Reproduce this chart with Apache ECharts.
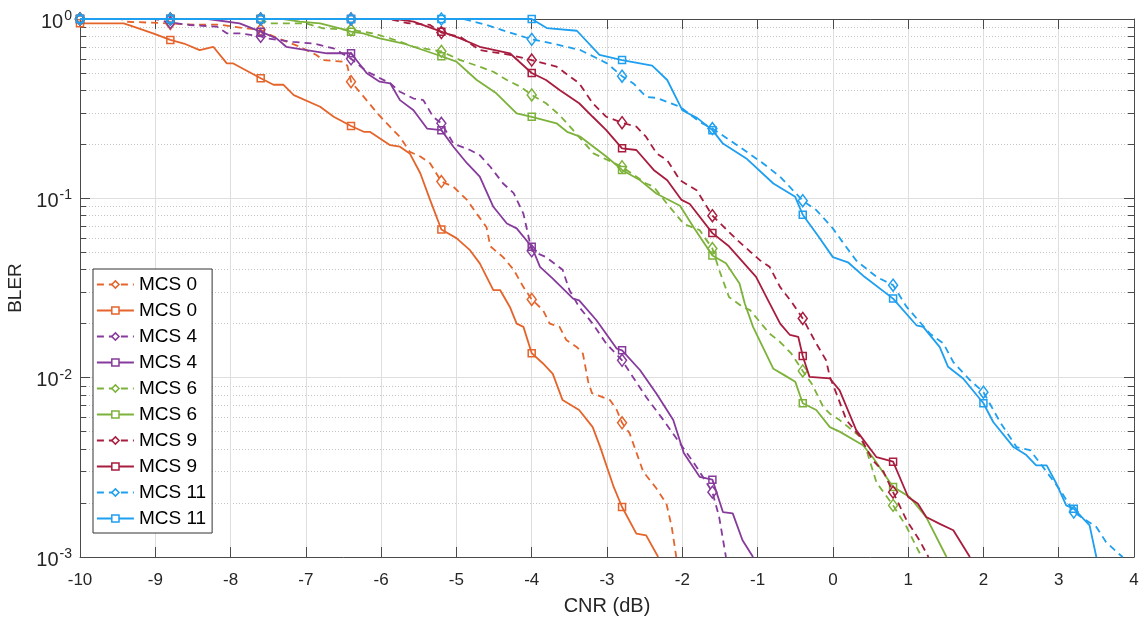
<!DOCTYPE html>
<html><head><meta charset="utf-8">
<script src="https://cdn.jsdelivr.net/npm/echarts/dist/echarts.min.js"></script>
<style>html,body{margin:0;padding:0;background:#fff}#c{width:1147px;height:621px}</style>
</head><body><div id="c"></div>
<script>
// ---- data (CNR dB, BLER) ----
const legendLabels = ['MCS 0','MCS 0','MCS 4','MCS 4','MCS 6','MCS 6','MCS 9','MCS 9','MCS 11','MCS 11'];
const xTickValues = [-10,-9,-8,-7,-6,-5,-4,-3,-2,-1,0,1,2,3,4];
const yMajorTicks = [0.001,0.01,0.1,1];
const yMinorTicks = [0.002,0.003,0.004,0.005,0.006,0.007,0.008,0.009,0.02,0.03,0.04,0.05,0.06,0.07,0.08,0.09,0.2,0.3,0.4,0.5,0.6,0.7,0.8,0.9];
const markerCNR = [-10,-8.8,-7.6,-6.4,-5.2,-4,-2.8,-1.6,-0.4,0.8,2,3.2];

const mcs0Dashed = [[-10,1],[-9.45,1],[-9.4,0.966],[-8.8,0.945],[-8.5,0.93],[-8.14,0.93],[-7.83,0.89],[-7.6,0.87],[-7.52,0.83],[-7.3,0.76],[-7.08,0.70],[-6.86,0.63],[-6.77,0.59],[-6.5,0.578],[-6.45,0.55],[-6.4,0.447],[-6.23,0.368],[-6.05,0.298],[-5.88,0.25],[-5.75,0.22],[-5.62,0.182],[-5.48,0.171],[-5.35,0.157],[-5.2,0.124],[-5.04,0.116],[-4.86,0.098],[-4.73,0.082],[-4.6,0.069],[-4.55,0.054],[-4.38,0.047],[-4.24,0.040],[-4.11,0.032],[-4.0,0.0273],[-3.85,0.0238],[-3.76,0.020],[-3.63,0.0192],[-3.54,0.0162],[-3.4,0.0148],[-3.32,0.0136],[-3.25,0.0095],[-3.2,0.0082],[-2.96,0.0075],[-2.87,0.0066],[-2.8,0.0056],[-2.7,0.0049],[-2.52,0.0030],[-2.34,0.0024],[-2.21,0.00198],[-2.14,0.00147],[-2.08,0.001]];
const mcs0Solid = [[-10,0.946],[-9.42,0.946],[-9.29,0.906],[-9.03,0.832],[-8.8,0.764],[-8.62,0.73],[-8.41,0.67],[-8.23,0.70],[-8.05,0.566],[-7.97,0.566],[-7.6,0.467],[-7.43,0.43],[-7.3,0.43],[-7.16,0.376],[-6.81,0.324],[-6.63,0.285],[-6.4,0.253],[-6.23,0.235],[-6.15,0.235],[-5.88,0.198],[-5.75,0.194],[-5.62,0.178],[-5.48,0.138],[-5.35,0.098],[-5.2,0.067],[-5.0,0.06],[-4.82,0.0514],[-4.69,0.0434],[-4.51,0.0308],[-4.42,0.0308],[-4.29,0.0248],[-4.2,0.020],[-4.11,0.0192],[-4.0,0.0137],[-3.85,0.012],[-3.72,0.0105],[-3.59,0.0075],[-3.37,0.0066],[-3.19,0.0053],[-3.09,0.0041],[-2.91,0.00245],[-2.8,0.0019],[-2.61,0.00135],[-2.48,0.00132],[-2.32,0.001]];
const mcs4Dashed = [[-10,1],[-9.0,1],[-8.8,0.955],[-8.54,0.926],[-8.18,0.906],[-8.05,0.832],[-7.87,0.832],[-7.6,0.80],[-7.52,0.78],[-7.17,0.746],[-6.9,0.73],[-6.63,0.685],[-6.4,0.60],[-6.19,0.51],[-5.88,0.438],[-5.75,0.393],[-5.57,0.36],[-5.44,0.353],[-5.31,0.285],[-5.2,0.262],[-5.04,0.202],[-4.82,0.186],[-4.69,0.174],[-4.55,0.15],[-4.38,0.121],[-4.24,0.107],[-4.11,0.082],[-4.0,0.051],[-3.81,0.047],[-3.59,0.040],[-3.5,0.0308],[-3.37,0.0248],[-3.19,0.020],[-3.01,0.0155],[-2.8,0.0125],[-2.65,0.0100],[-2.48,0.0078],[-2.25,0.0058],[-2.03,0.0043],[-1.81,0.00318],[-1.6,0.0023],[-1.51,0.00167],[-1.42,0.001]];
const mcs4Solid = [[-10,1],[-8.8,1],[-8.3,1],[-7.88,0.946],[-7.6,0.85],[-7.39,0.78],[-7.26,0.70],[-6.99,0.671],[-6.72,0.644],[-6.4,0.644],[-6.19,0.498],[-6.02,0.447],[-5.88,0.438],[-5.75,0.353],[-5.57,0.31],[-5.39,0.245],[-5.2,0.24],[-5.04,0.194],[-4.86,0.157],[-4.69,0.132],[-4.51,0.0897],[-4.33,0.0724],[-4.2,0.068],[-4.0,0.0537],[-3.89,0.0415],[-3.72,0.0357],[-3.45,0.0276],[-3.37,0.027],[-3.14,0.0209],[-2.87,0.0145],[-2.8,0.0142],[-2.56,0.011],[-2.34,0.0081],[-2.12,0.0058],[-1.98,0.0038],[-1.77,0.0028],[-1.6,0.0027],[-1.46,0.00178],[-1.33,0.00175],[-1.2,0.00124],[-1.06,0.001]];
const mcs6Dashed = [[-10,1],[-8.8,1],[-7.6,1],[-7.5,0.946],[-7.0,0.946],[-6.77,0.887],[-6.4,0.87],[-6.1,0.83],[-5.8,0.76],[-5.57,0.70],[-5.2,0.66],[-4.95,0.59],[-4.69,0.542],[-4.51,0.508],[-4.33,0.457],[-4.15,0.419],[-4.0,0.377],[-3.81,0.339],[-3.63,0.291],[-3.45,0.24],[-3.18,0.178],[-2.8,0.15],[-2.48,0.121],[-2.38,0.116],[-2.2,0.093],[-1.98,0.072],[-1.77,0.0665],[-1.6,0.0525],[-1.51,0.0398],[-1.38,0.0282],[-1.2,0.0248],[-1.1,0.0238],[-0.84,0.0176],[-0.7,0.0158],[-0.55,0.0136],[-0.4,0.0109],[-0.27,0.0091],[-0.13,0.0069],[-0.04,0.0063],[0.09,0.0058],[0.36,0.0047],[0.45,0.0039],[0.58,0.0026],[0.8,0.00194],[0.98,0.00147],[1.11,0.00114],[1.18,0.001]];
const mcs6Solid = [[-10,1],[-8.8,1],[-7.6,1],[-7.3,1],[-7.08,0.966],[-6.81,0.946],[-6.55,0.887],[-6.4,0.85],[-6.24,0.832],[-6.02,0.78],[-5.7,0.73],[-5.2,0.62],[-5.0,0.578],[-4.73,0.457],[-4.47,0.385],[-4.2,0.298],[-4.0,0.285],[-3.67,0.262],[-3.53,0.235],[-3.35,0.22],[-3.18,0.194],[-3.01,0.171],[-2.8,0.144],[-2.56,0.126],[-2.34,0.106],[-2.03,0.091],[-1.85,0.069],[-1.6,0.048],[-1.42,0.0434],[-1.24,0.0335],[-1.17,0.0259],[-1.06,0.0192],[-0.93,0.0148],[-0.79,0.0112],[-0.64,0.0103],[-0.5,0.0095],[-0.4,0.0072],[-0.22,0.0066],[-0.04,0.0053],[0.09,0.005],[0.4,0.0042],[0.53,0.0036],[0.8,0.00246],[1.02,0.00216],[1.24,0.00167],[1.51,0.001]];
const mcs9Dashed = [[-10,1],[-8.8,1],[-7.6,1],[-6.4,1],[-5.9,1],[-5.66,0.95],[-5.35,0.927],[-5.2,0.84],[-4.95,0.796],[-4.69,0.671],[-4.29,0.631],[-4.0,0.59],[-3.67,0.542],[-3.37,0.438],[-3.19,0.339],[-3.01,0.285],[-2.8,0.264],[-2.61,0.251],[-2.48,0.22],[-2.34,0.178],[-2.2,0.163],[-2.03,0.126],[-1.81,0.111],[-1.6,0.08],[-1.27,0.0585],[-0.97,0.0452],[-0.84,0.0415],[-0.7,0.032],[-0.55,0.0265],[-0.4,0.0214],[-0.22,0.0155],[-0.09,0.0125],[-0.04,0.0101],[0.05,0.0081],[0.18,0.0058],[0.36,0.0047],[0.53,0.00346],[0.67,0.003],[0.8,0.0023],[0.98,0.0016],[1.15,0.00124],[1.27,0.001]];
const mcs9Solid = [[-10,1],[-8.8,1],[-7.6,1],[-6.4,1],[-5.8,1],[-5.57,0.966],[-5.2,0.85],[-4.95,0.78],[-4.69,0.70],[-4.29,0.644],[-4.0,0.50],[-3.81,0.457],[-3.63,0.402],[-3.37,0.339],[-3.19,0.285],[-3.01,0.24],[-2.8,0.19],[-2.61,0.186],[-2.38,0.144],[-2.2,0.126],[-2.01,0.098],[-1.9,0.093],[-1.6,0.064],[-1.38,0.054],[-1.02,0.0365],[-0.86,0.027],[-0.7,0.020],[-0.57,0.0173],[-0.46,0.0169],[-0.4,0.0132],[-0.31,0.0101],[-0.04,0.0099],[0.09,0.0085],[0.31,0.0051],[0.58,0.0036],[0.8,0.0034],[1.0,0.00216],[1.13,0.00198],[1.24,0.00167],[1.42,0.00153],[1.6,0.00141],[1.82,0.001]];
const mcs11Dashed = [[-10,1],[-8.8,1],[-7.6,1],[-6.4,1],[-5.2,1],[-4.9,1],[-4.6,0.926],[-4.33,0.85],[-4.0,0.77],[-3.72,0.73],[-3.35,0.67],[-3.0,0.566],[-2.8,0.48],[-2.65,0.437],[-2.48,0.368],[-2.34,0.363],[-2.03,0.324],[-1.77,0.267],[-1.6,0.245],[-1.24,0.194],[-0.93,0.157],[-0.7,0.132],[-0.4,0.097],[-0.22,0.086],[0,0.068],[0.13,0.057],[0.31,0.045],[0.58,0.0365],[0.8,0.0328],[0.98,0.0248],[1.29,0.0176],[1.47,0.0155],[1.6,0.0122],[1.82,0.0097],[2.0,0.0083],[2.22,0.00566],[2.44,0.0041],[2.62,0.00394],[2.79,0.00318],[3.02,0.00236],[3.2,0.00178],[3.5,0.00147],[3.63,0.00121],[3.79,0.00105],[3.85,0.001]];
const mcs11Solid = [[-10,1],[-8.8,1],[-7.6,1],[-6.4,1],[-5.2,1],[-4,1],[-3.8,0.89],[-3.4,0.86],[-3.1,0.63],[-2.8,0.59],[-2.4,0.55],[-2.2,0.457],[-2.0,0.31],[-1.8,0.28],[-1.6,0.24],[-1.46,0.202],[-1.15,0.167],[-0.79,0.121],[-0.5,0.102],[-0.4,0.081],[-0.2,0.062],[0,0.047],[0.2,0.044],[0.42,0.0365],[0.8,0.0276],[1.11,0.0196],[1.2,0.0192],[1.42,0.0148],[1.53,0.0115],[1.73,0.0099],[2.0,0.0072],[2.13,0.00566],[2.4,0.0041],[2.57,0.0037],[2.7,0.00324],[2.84,0.00324],[2.97,0.00256],[3.1,0.00194],[3.2,0.00186],[3.41,0.0015],[3.5,0.001]];

// ---- styling ----
const FONT = '"Liberation Sans", Arial, sans-serif';
const TXT = '#262626';
const AX = '#4a4a4a';
const COLORS = ['#E5642B','#E5642B','#863B9C','#863B9C','#7DB23A','#7DB23A','#A81C3E','#A81C3E','#1E9FEF','#1E9FEF'];
const allData = [mcs0Dashed,mcs0Solid,mcs4Dashed,mcs4Solid,mcs6Dashed,mcs6Solid,mcs9Dashed,mcs9Solid,mcs11Dashed,mcs11Solid];
const DASH = [7,5];

function isMarker(x){ return markerCNR.some(m => Math.abs(m - x) < 1e-6); }

const series = allData.map((d, i) => {
  const dashed = i % 2 === 0;
  return {
    name: legendLabels[i] + '#' + i,
    type: 'line',
    data: d,
    xAxisIndex: 0, yAxisIndex: 0,
    clip: false,
    symbol: dashed ? 'diamond' : 'rect',
    symbolSize: (v) => isMarker(v[0]) ? (dashed ? [9, 12] : 7) : 0,
    itemStyle: { color: 'rgba(255,255,255,0)', borderColor: COLORS[i], borderWidth: 1.5 },
    lineStyle: { color: COLORS[i], width: 1.8, type: dashed ? DASH : 'solid' },
    emphasis: { disabled: true },
    silent: true,
    z: 3 + i
  };
});

const yBase = { type: 'log', logBase: 10, min: 0.001, max: 1, gridIndex: 0 };
const chart = echarts.init(document.getElementById('c'), null, { renderer: 'canvas' });
chart.setOption({
  animation: false,
  backgroundColor: '#fff',
  grid: { left: 80, right: 13, top: 19, bottom: 64, containLabel: false, outerBoundsMode: 'none' },
  xAxis: [
    { type: 'value', min: -10, max: 4, interval: 1, position: 'bottom',
      axisLine: { show: true, onZero: false, lineStyle: { color: AX, width: 1 } },
      axisTick: { show: true, inside: true, length: 10, lineStyle: { color: AX } },
      axisLabel: { margin: 15, fontSize: 17, color: TXT, fontFamily: FONT },
      splitLine: { show: true, lineStyle: { color: '#dedede', width: 1 } },
      name: 'CNR (dB)', nameLocation: 'middle', nameGap: 39,
      nameTextStyle: { fontSize: 20, color: TXT, fontFamily: FONT } },
    { type: 'value', min: -10, max: 4, interval: 1, position: 'top',
      axisLine: { show: true, onZero: false, lineStyle: { color: AX, width: 1 } },
      axisTick: { show: true, inside: true, length: 10, lineStyle: { color: AX } },
      axisLabel: { show: false }, splitLine: { show: false } }
  ],
  yAxis: [
    Object.assign({}, yBase, { position: 'left',
      axisLine: { show: true, onZero: false, lineStyle: { color: AX, width: 1 } },
      axisTick: { show: true, inside: true, length: 10, lineStyle: { color: AX }, customValues: yMajorTicks },
      axisLabel: { show: true, margin: 8, color: TXT, fontFamily: FONT, customValues: yMajorTicks,
        formatter: (v) => '{b|10}{s|' + Math.round(Math.log10(v)) + '}',
        rich: { b: { fontSize: 20, lineHeight: 26, verticalAlign: 'bottom', color: TXT, fontFamily: FONT },
                s: { fontSize: 14, lineHeight: 14, padding: [3, 0, 0, 1], verticalAlign: 'top', color: TXT, fontFamily: FONT } } },
      splitLine: { show: true, lineStyle: { color: '#dedede', width: 1 } },
      name: 'BLER', nameLocation: 'middle', nameGap: 49,
      nameTextStyle: { fontSize: 19, color: TXT, fontFamily: FONT } }),
    Object.assign({}, yBase, { position: 'left',
      axisLine: { show: false, onZero: false },
      axisTick: { show: true, inside: true, length: 6, lineStyle: { color: AX }, customValues: yMinorTicks },
      axisLabel: { show: false },
      splitLine: { show: true, lineStyle: { color: '#c4c4c4', width: 1, type: [1, 2] } } }),
    Object.assign({}, yBase, { position: 'right',
      axisLine: { show: true, onZero: false, lineStyle: { color: AX, width: 1 } },
      axisTick: { show: true, inside: true, length: 10, lineStyle: { color: AX }, customValues: yMajorTicks },
      axisLabel: { show: false }, splitLine: { show: false } }),
    Object.assign({}, yBase, { position: 'right',
      axisLine: { show: false, onZero: false },
      axisTick: { show: true, inside: true, length: 6, lineStyle: { color: AX }, customValues: yMinorTicks },
      axisLabel: { show: false }, splitLine: { show: false } })
  ],
  legend: {
    orient: 'vertical', left: 93, top: 269,
    backgroundColor: '#fff', borderColor: '#333', borderWidth: 1,
    padding: [6, 6, 5, 3], itemWidth: 37, itemHeight: 9, itemGap: 7,
    selectedMode: false,
    textStyle: { fontSize: 19, lineHeight: 19, color: '#000', fontFamily: FONT },
    formatter: (n) => n.split('#')[0],
    data: series.map((s, i) => ({
      name: s.name,
      itemStyle: { color: '#fff', borderColor: COLORS[i], borderWidth: 1.5 },
      lineStyle: { color: COLORS[i], width: 1.8, type: i % 2 === 0 ? DASH : 'solid' }
    }))
  },
  series: series
});
</script>
</body></html>
